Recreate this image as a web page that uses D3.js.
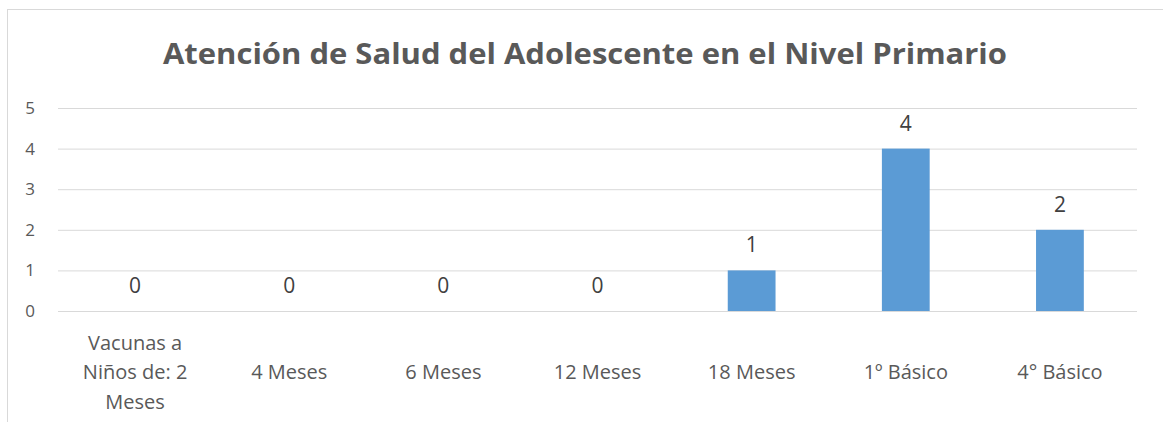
<!DOCTYPE html>
<html><head><meta charset="utf-8">
<script src="https://cdn.jsdelivr.net/npm/d3@7"></script>
<style>body{margin:0;background:#fff;}svg{display:block;}</style>
</head><body>
<svg id="c" width="1163" height="422"></svg>
<script>
const title = "Atención de Salud del Adolescente en el Nivel Primario";
const categories = ["Vacunas a Niños de: 2 Meses","4 Meses","6 Meses","12 Meses","18 Meses","1º Básico","4° Básico"];
const values = [0,0,0,0,1,4,2];
const yTicks = [0,1,2,3,4,5];

const svg = d3.select("#c");
const W = 1163, H = 422;
const font = "'Open Sans', sans-serif";
const textColor = "#595959";
svg.append("rect").attr("x",0).attr("y",0).attr("width",W).attr("height",H).attr("fill","#fff");
svg.append("rect").attr("x",7.5).attr("y",9.5).attr("width",W+20).attr("height",H+20)
  .attr("fill","none").attr("stroke","#d9d9d9").attr("stroke-width",1);

const m = {left:58, right:1137, top:108, bottom:311};
const x = d3.scaleBand().domain(categories).range([m.left,m.right]).paddingInner(0.69).paddingOuter(0.345);
const y = d3.scaleLinear().domain([0,5]).range([m.bottom,m.top]);

svg.append("text").attr("x",585).attr("y",64).attr("text-anchor","middle")
  .attr("font-family",font).attr("font-weight","bold").attr("font-size",29)
  .attr("fill",textColor).attr("textLength",844).attr("lengthAdjust","spacingAndGlyphs").text(title);

// gridlines
const yAxis = d3.axisLeft(y).tickValues(yTicks).tickSize(-(m.right-m.left)).tickPadding(23).tickFormat(d3.format("d"));
const gy = svg.append("g").attr("transform",`translate(${m.left},0)`).call(yAxis);
gy.select(".domain").remove();
gy.selectAll(".tick line").attr("stroke","#d9d9d9").attr("stroke-width",1);
gy.selectAll(".tick text").attr("font-family",font).attr("font-size",17).attr("fill",textColor);

// bars
svg.append("g").selectAll("rect").data(categories).join("rect")
  .attr("x",d=>x(d)).attr("width",x.bandwidth())
  .attr("y",(d,i)=>y(values[i])).attr("height",(d,i)=>y(0)-y(values[i]))
  .attr("fill","#5b9bd5");

// data labels
svg.append("g").selectAll("text").data(categories).join("text")
  .attr("x",d=>x(d)+x.bandwidth()/2).attr("y",(d,i)=>y(values[i])-18)
  .attr("text-anchor","middle").attr("font-family",font).attr("font-size",21).attr("fill","#404040")
  .text((d,i)=>values[i]);

// x axis
const xAxis = d3.axisBottom(x).tickSize(0).tickPadding(0);
const gx = svg.append("g").attr("transform",`translate(0,${m.bottom})`).call(xAxis);
gx.select(".domain").remove();
gx.selectAll(".tick text").attr("font-family",font).attr("font-size",20).attr("fill",textColor)
  .each(function(d){
    const t = d3.select(this);
    const words = d.split(" ");
    t.text(null);
    const maxW = 122;
    let lines=[], cur=[];
    const tmp = t.append("tspan");
    words.forEach(w=>{
      const test = cur.concat([w]).join(" ");
      tmp.text(test);
      if(tmp.node().getComputedTextLength()>maxW && cur.length){lines.push(cur.join(" ")); cur=[w];}
      else cur.push(w);
    });
    lines.push(cur.join(" "));
    tmp.remove();
    const lh = 29.5;
    const y0 = lines.length===1 ? 68 : 68 - (lines.length-1)*lh/2;
    lines.forEach((l,i)=>t.append("tspan").attr("x",0).attr("y",y0+i*lh).attr("dy",0).text(l));
  });
</script>
</body></html>
